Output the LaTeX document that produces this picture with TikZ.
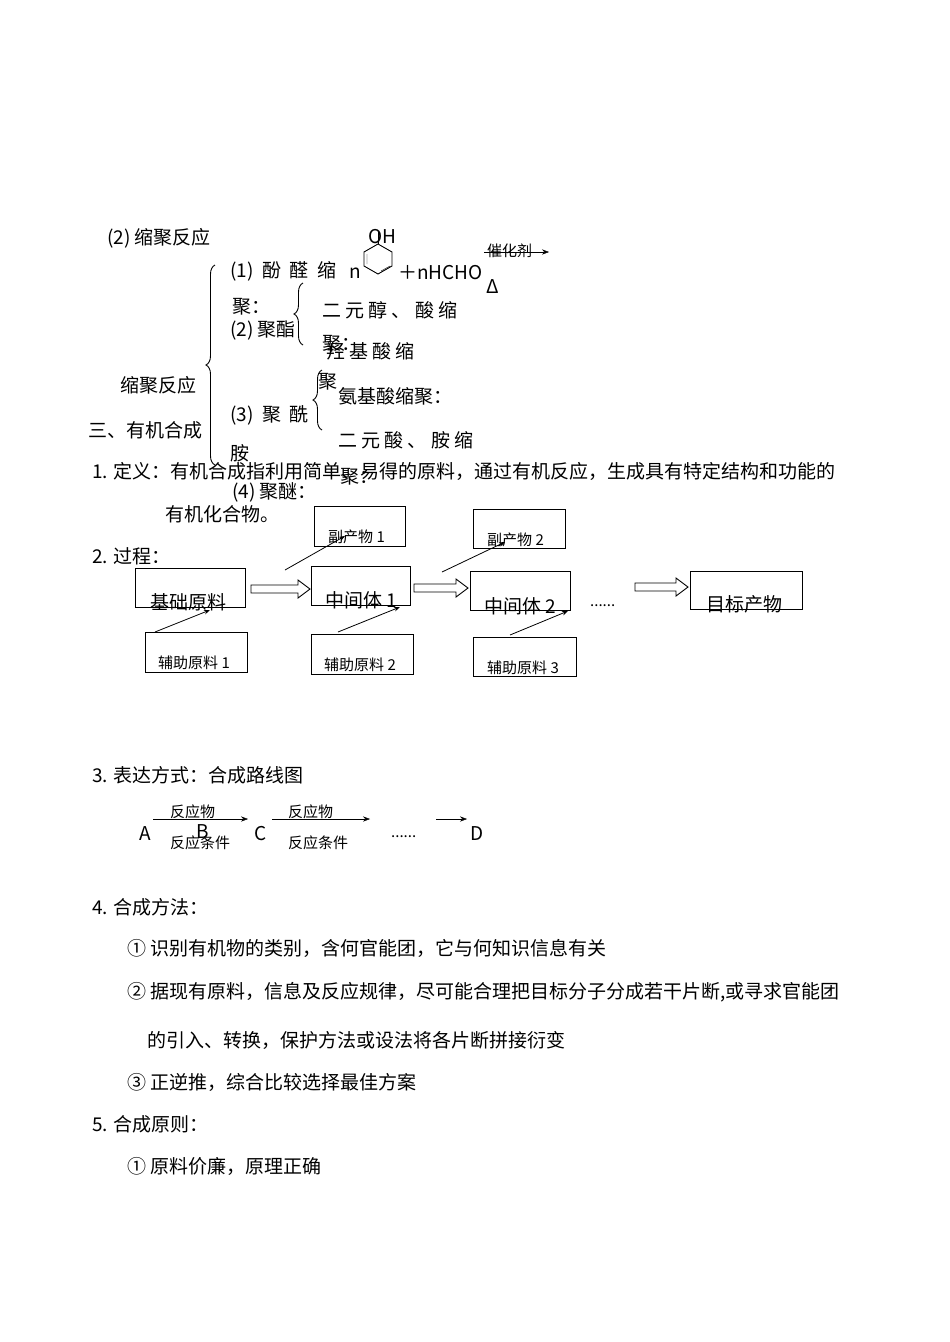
\documentclass[tikz,border=0pt]{standalone}
\usepackage{fontspec}
\setmainfont{Noto Sans CJK SC}
\usetikzlibrary{decorations.pathreplacing,arrows.meta}
\begin{document}
\begin{tikzpicture}[x=1pt,y=-1pt,
  t/.style={anchor=west,inner sep=0pt,font=\fontsize{19}{21}\selectfont},
  s/.style={anchor=west,inner sep=0pt,font=\fontsize{15}{17}\selectfont},
  bx/.style={draw,line width=1pt},
  thin/.style={-{Stealth[length=6pt]},line width=0.8pt},
  brc/.style={decorate,decoration={brace,amplitude=9pt},line width=0.9pt}]
\useasboundingbox (0,0) rectangle (950,1342);
\node[t] (h2) at (107,238) {(2) 缩聚反应};
\draw[brc] (215,465) -- (215,265);
\node[t] (p1) at (230,271) {(1)\ \ 酚\ \ 醛\ \ 缩};
\node[t] (n) at (349,273) {n};
\draw[line width=0.9pt] (378,244)--(392,252)--(392,266)--(378,274)--(364,266)--(364,252)--cycle;
\draw (367,254)--(367,264) (381,271)--(390,266);
\node[t] (oh) at (368,237) {OH};
\draw (378,244)--(378,232);
\node[t] (hcho) at (398,273) {＋nHCHO};
\node[s] (cat) at (487,251) {催化剂};
\draw[-{Stealth[length=7pt]}] (484,252) -- (549,252);
\node[t] (dl) at (486,287) {Δ};
\node[t] (ju1) at (232,307) {聚：};
\node[t] (p2) at (230,331) {(2) 聚酯};
\draw[brc] (303,345) -- (303,283);
\node[t] (e1) at (322,310) {二 元 醇 、 酸 缩};
\node[t] (e2) at (326,351) {羟 基 酸 缩};
\node[t] (ju2) at (322,344) {聚：};
\node[t] (sj) at (120,385) {缩聚反应};
\draw[brc] (322,430) -- (322,370);
\node[t] (ju3) at (318,382) {聚};
\node[t] (a1) at (338,396) {氨基酸缩聚：};
\node[t] (p3) at (230,415) {(3)\ \ 聚\ \ 酰};
\node[t] (san) at (88,430) {三、有机合成};
\node[t] (a2) at (338,440) {二 元 酸 、 胺 缩};
\node[t] (an) at (230,453) {胺};
\node[t] (def) at (92,471) {1. 定义：有机合成指利用简单、易得的原料，通过有机反应，生成具有特定结构和功能的};
\node[t] (ju4) at (340,477) {聚：};
\node[t] (p4) at (232,492) {(4) 聚醚：};
\node[t] (def2) at (165,514) {有机化合物。};
\node[t] (gc) at (92,556) {2. 过程：};
% boxes
\draw[bx] (314,506) rectangle (405,546); \node[s] (f1) at (328,537) {副产物 1};
\draw[bx] (473,509) rectangle (565,548); \node[s] (f2) at (487,540) {副产物 2};
\draw[bx] (135,568) rectangle (245,607); \node[t] (jc) at (150,602) {基础原料};
\draw[bx] (311,566) rectangle (410,605); \node[t] (z1) at (325,600) {中间体 1};
\draw[bx] (470,571) rectangle (570,610); \node[t] (z2) at (484,606) {中间体 2};
\draw[bx] (690,571) rectangle (802,609); \node[t] (mb) at (706,604) {目标产物};
\draw[bx] (145,632) rectangle (247,672); \node[s] (fz1) at (158,663) {辅助原料 1};
\draw[bx] (311,634) rectangle (413,674); \node[s] (fz2) at (324,665) {辅助原料 2};
\draw[bx] (473,637) rectangle (576,676); \node[s] (fz3) at (487,668) {辅助原料 3};
\foreach \a/\b/\y in {251/310/589,414/468/588,635/688/587}{
  \draw[line width=0.9pt] (\a,\y-4)--(\b-12,\y-4)--(\b-12,\y-9)--(\b,\y)--(\b-12,\y+9)--(\b-12,\y+4)--(\a,\y+4)--cycle;}
\draw[thin] (155,632) -- (210,610);
\draw[thin] (285,570) -- (345,536);
\draw[thin] (338,632) -- (400,607);
\draw[thin] (442,572) -- (505,542);
\draw[thin] (510,635) -- (568,611);
\node[s] (dots) at (590,606) {......};
\node[t] (bd) at (92,775) {3. 表达方式：合成路线图};
\draw[-{Stealth[length=7pt]}] (153,819) -- (248,819);
\draw[-{Stealth[length=7pt]}] (272,819) -- (370,819);
\draw[-{Stealth[length=7pt]}] (436,819) -- (467,819);
\node[s] (r1) at (170,812) {反应物};
\node[s] (r2) at (288,812) {反应物};
\node[s] (c1) at (170,843) {反应条件};
\node[s] (c2) at (288,843) {反应条件};
\node[t] (A) at (139,834) {A};
\node[t] (B) at (196,832) {B};
\node[t] (C) at (254,834) {C};
\node[s] (d2) at (391,837) {......};
\node[t] (D) at (470,834) {D};
\node[t] (ff) at (92,907) {4. 合成方法：};
\node[t] (m1) at (127,948) {① 识别有机物的类别，含何官能团，它与何知识信息有关};
\node[t] (m2) at (127,992) {② 据现有原料，信息及反应规律，尽可能合理把目标分子分成若干片断,或寻求官能团};
\node[t] (m3) at (147,1040) {的引入、转换，保护方法或设法将各片断拼接衍变};
\node[t] (m4) at (127,1082) {③ 正逆推，综合比较选择最佳方案};
\node[t] (yz) at (92,1124) {5. 合成原则：};
\node[t] (y1) at (127,1166) {① 原料价廉，原理正确};
\end{tikzpicture}
\end{document}
